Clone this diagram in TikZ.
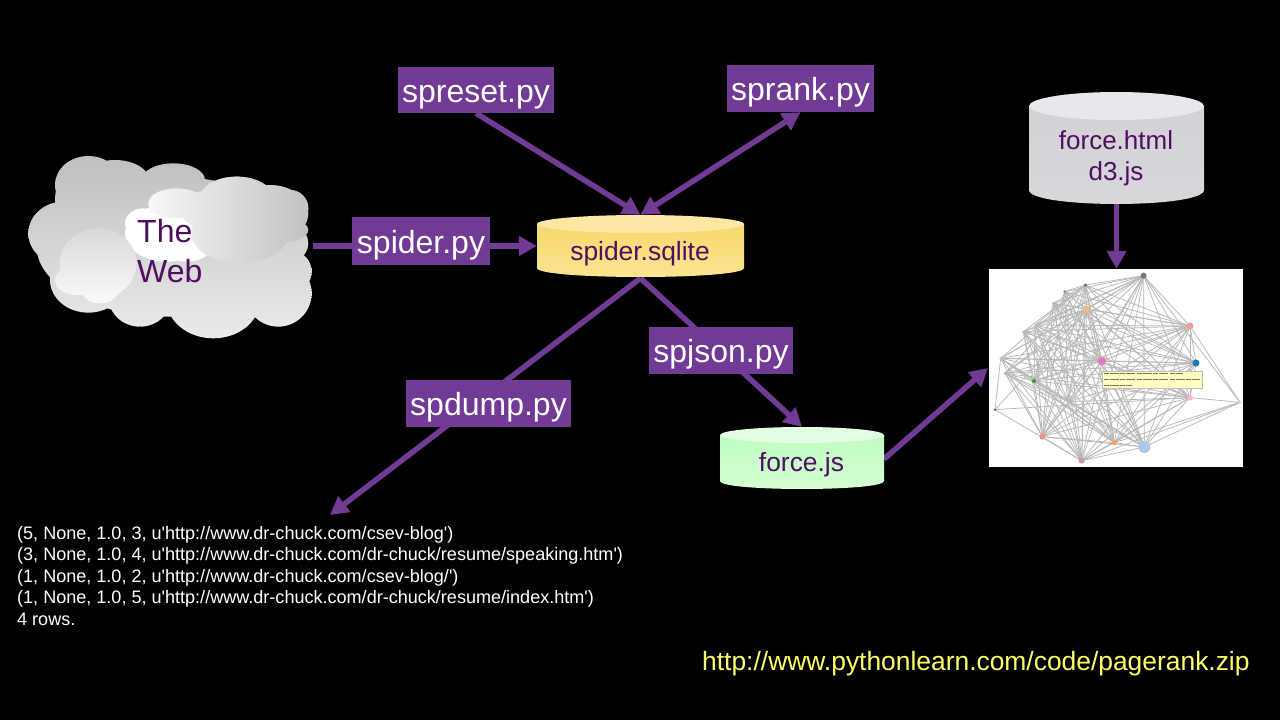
\documentclass[tikz,border=0pt]{standalone}
\usepackage{fontspec}
\setmainfont{Liberation Sans}
\newfontfamily\plainsans{Liberation Sans}
\usetikzlibrary{arrows.meta,calc}
\pgfdeclarelayer{bg}\pgfdeclarelayer{conn}\pgfsetlayers{bg,conn,main}
\definecolor{boxpurple}{HTML}{713A94}
\definecolor{linepurple}{HTML}{713A94}
\definecolor{darkpurple}{HTML}{4F0F60}
\definecolor{urlyellow}{HTML}{FFFF66}
\definecolor{ya}{HTML}{F6D86E}\definecolor{yb}{HTML}{FBE592}\definecolor{yc}{HTML}{FBE8A4}
\definecolor{ga}{HTML}{BFFDC0}\definecolor{gb}{HTML}{D6FFD6}\definecolor{gc}{HTML}{E2FFE2}
\definecolor{sa}{HTML}{D2D2D6}\definecolor{sb}{HTML}{D8D8DC}\definecolor{sc}{HTML}{E8E8EC}
\newcommand{\fsz}[2]{\fontsize{#1}{#2}\selectfont}
\newcommand{\drum}[8]{%x0,x1,ytop,ybot,ry,bodytop,bodybot,topcol
  \path[top color=#6,bottom color=#7] (#1,#3) -- (#1,#4)
    .. controls (#1,#4+1.33*#5) and (#2,#4+1.33*#5) .. (#2,#4) -- (#2,#3) -- cycle;
  \path[fill=#8] ({(#1+#2)/2},#3) ellipse [x radius={(#2-#1)/2},y radius=#5];
}
\newcommand{\puffs}[1]{\foreach \cx/\cy/\rx/\ry in {#1} {(\cx,\cy) ellipse [x radius=\rx,y radius=\ry]}}
\newcommand{\isleft}[1]{\ifcase#1 0\or0\or0\or1\or1\or0\or1\or1\or0\or0\or1\or1\else0\fi}
\tikzset{
  scriptbox/.style={fill=boxpurple,text=white,inner sep=0pt,font=\fsz{32}{32},text height=28pt,text depth=4pt},
  dbtext/.style={text=darkpurple,inner sep=0pt,align=center},
  flow/.style={draw=linepurple,line width=5.5pt,-{Triangle[length=18pt,width=19pt]}},
  plainflow/.style={draw=linepurple,line width=5.5pt},
  twoway/.style={draw=linepurple,line width=5.5pt,{Triangle[length=18pt,width=19pt]}-{Triangle[length=18pt,width=19pt]}},
  edge/.style={draw=black!28,line width=0.75pt},
  dot/.style={circle,inner sep=0pt,minimum size=#1},
}
\begin{document}
\begin{tikzpicture}[x=1pt,y=-1pt]
\useasboundingbox (0,0) rectangle (1280,720);
\begin{pgfonlayer}{bg}
\fill[black] (0,0) rectangle (1280,720);
\end{pgfonlayer}

% cloud
\begin{scope}[shift={(0,130)},x=0.3333pt,y=-0.3333pt]
\path[top color=black!25,bottom color=black!8] \puffs{265/165/100/87,345/155/105/65,250/210/85/105,520/150/95/50,710/205/110/65,870/235/55/55,830/340/95/70,880/425/55/60,835/490/100/100,640/510/140/115,420/500/95/90,265/450/115/98,190/310/105/95,510/350/400/210};
\path[fill=white] \puffs{500/310/125/85,430/280/55/45,560/340/80/55};
\path[left color=black!3,right color=black!24] \puffs{530/220/85/45,710/205/110/65,870/235/55/55,830/300/95/40,720/310/145/90,810/250/115/85,640/240/100/60};
\path[top color=black!15,bottom color=black!2] \puffs{295/400/115/105,230/450/65/45,250/360/55/40,300/470/60/50};
\end{scope}
\node[dbtext,anchor=west,align=left,font=\fsz{32}{39.5}] (web) at (137,251) {The\\Web};
\coordinate (cloudedge) at (313,246);

% drums
\drum{537}{744}{224}{268}{9}{ya}{yb}{yc}
\node[minimum width=207pt,minimum height=63pt,inner sep=0pt] (sqlite) at (640.5,246.5) {};
\node[dbtext,font=\fsz{26.4}{30}] (sqlitetext) at (640,254) {spider.sqlite};
\drum{720}{884}{435}{481}{8}{ga}{gb}{gc}
\node[minimum width=164pt,minimum height=62pt,inner sep=0pt] (forcejs) at (802,458) {};
\node[dbtext,font=\fsz{26.4}{30}] (forcetext) at (801.5,465) {force.js};
\drum{1029}{1204}{106}{190}{14}{sa}{sb}{sc}
\node[minimum width=175pt,minimum height=111pt,inner sep=0pt] (forcehtml) at (1116.5,147.5) {};
\node[dbtext,font=\fsz{26}{31}] (htmltext) at (1116,158) {force.html\\d3.js};

% script boxes
\node[scriptbox,minimum width=156pt,minimum height=46pt] (spreset) at (476,90) {spreset.py};
\node[scriptbox,minimum width=147pt,minimum height=47pt] (sprank) at (800.5,88.5) {sprank.py};
\node[scriptbox,minimum width=138pt,minimum height=48pt] (spider) at (421,241) {spider.py};
\node[scriptbox,minimum width=144pt,minimum height=47pt] (spjson) at (721,350.5) {spjson.py};
\node[scriptbox,minimum width=165pt,minimum height=47pt] (spdump) at (488.5,403.5) {spdump.py};

% visualisation
\node[fill=white,minimum width=254pt,minimum height=198pt,inner sep=0pt] (viz) at (1116,368) {};
\begin{scope}[shift={(980,260)},x=0.3333pt,y=-0.3333pt]
\foreach \i/\x/\y in {1/491/47,2/316/75,3/254/95,4/220/130,5/320/148,6/165/195,7/130/215,8/630/198,9/648/309,10/62/295,11/75/340,12/162/363,13/366/304,14/630/413,15/265/425,16/187/530,17/403/548,18/493/561,19/305/602}
  \coordinate (g\i) at (\x,\y);
\coordinate (g20) at (780,427);
\coordinate (g21) at (45,449);
\foreach \i in {1,...,19}{\foreach \j in {1,...,19}{\ifnum\i<\j \ifnum\isleft\i\isleft\j=11 \else \draw[edge] (g\i) -- (g\j);\fi\fi}}
\foreach \j in {1,8,14,17,18,19} \draw[edge] (g20) -- (g\j);
\foreach \j in {5,14,19,10} \draw[edge] (g21) -- (g\j);
\foreach \i/\s/\c in {1/6/777777,2/3/7A4A5A,3/3/9A7A9A,4/2.5/BBBBBB,5/7/F5B97A,6/2.5/C5DE9A,7/2.5/BBBBBB,8/7/EE9A9A,9/7/1F77B4,10/3/9EDAE5,11/2.5/AAAAAA,12/4/2CA02C,13/8/E377C2,14/6/F7B6D2,15/2/98DF8A,16/6/F09090,17/5/FF9F4F,18/12/AEC7E8,19/6/C49C94,20/2.5/DBDB8D,21/2.5/D62728}{
  \definecolor{dotcol}{HTML}{\c}
  \node[dot=\s pt,fill=dotcol] at (g\i) {};
}
\path[fill={rgb,255:red,255;green,255;blue,190},draw=black!25,line width=0.4pt] (367,333) rectangle (668,385);
\foreach \y/\xe in {341/610,358/660,375/455}
  \draw[black!55,line width=0.9pt,dash pattern=on 5pt off 1pt on 9pt off 1.5pt] (371,\y) -- (\xe,\y);
\end{scope}

% connectors
\coordinate (dumpend) at (330,515);
\coordinate (vizentry) at (988,368);
\coordinate (jsexit) at (884,459);
\begin{pgfonlayer}{conn}
\draw[flow] (spreset.south) -- (sqlite.north);
\draw[twoway] (sqlite.north) -- (sprank.south);
\draw[plainflow] (cloudedge) -- (spider.west |- cloudedge);
\draw[flow] (spider.east |- cloudedge) -- (sqlite.west |- cloudedge);
\draw[flow] (sqlite.south) -- (dumpend);
\draw[flow] (sqlite.south) -- (forcejs.north);
\draw[flow] (jsexit) -- (vizentry);
\draw[flow] (forcehtml.south) -- (forcehtml.south |- viz.north);
\end{pgfonlayer}

% result text
\node[anchor=north west,inner sep=0pt,text=white,align=left,font=\plainsans\fsz{18.05}{21.5}] (rows) at (17,526) {(5, None, 1.0, 3, u'http://www.dr-chuck.com/csev-blog')\\
(3, None, 1.0, 4, u'http://www.dr-chuck.com/dr-chuck/resume/speaking.htm')\\
(1, None, 1.0, 2, u'http://www.dr-chuck.com/csev-blog/')\\
(1, None, 1.0, 5, u'http://www.dr-chuck.com/dr-chuck/resume/index.htm')\\
4 rows.};
\node[anchor=west,inner sep=0pt,text=urlyellow,font=\fsz{26.4}{30}] (url) at (702,664) {http://www.pythonlearn.com/code/pagerank.zip};
\end{tikzpicture}
\end{document}
